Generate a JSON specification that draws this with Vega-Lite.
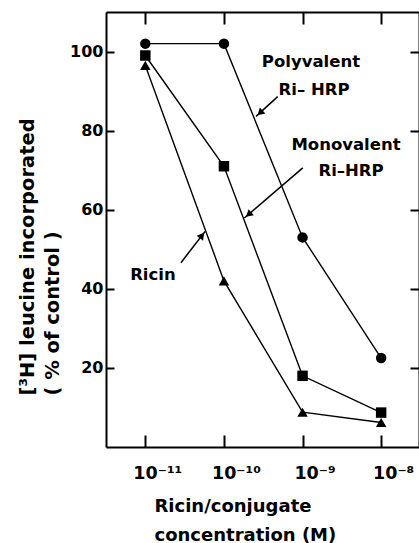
{
  "$schema": "https://vega.github.io/schema/vega-lite/v6.json",
  "width": 313,
  "height": 435,
  "autosize": {"type": "none"},
  "padding": {"left": 106, "top": 12, "right": 0, "bottom": 96},
  "background": "white",
  "config": {
    "view": {"stroke": null},
    "font": "DejaVu Sans",
    "axis": {
      "grid": false,
      "domainColor": "black",
      "domainWidth": 2,
      "tickColor": "black",
      "tickWidth": 2,
      "labelColor": "black",
      "labelFont": "DejaVu Sans",
      "labelFontWeight": "bold",
      "labelFontSize": 16,
      "titleColor": "black",
      "titleFont": "DejaVu Sans",
      "titleFontWeight": "bold"
    }
  },
  "datasets": {
    "series": [
      {"series": "Polyvalent Ri-HRP", "conc": 1e-11, "pct": 102},
      {"series": "Polyvalent Ri-HRP", "conc": 1e-10, "pct": 102},
      {"series": "Polyvalent Ri-HRP", "conc": 1e-9, "pct": 53},
      {"series": "Polyvalent Ri-HRP", "conc": 1e-8, "pct": 22.5},
      {"series": "Monovalent Ri-HRP", "conc": 1e-11, "pct": 99},
      {"series": "Monovalent Ri-HRP", "conc": 1e-10, "pct": 71},
      {"series": "Monovalent Ri-HRP", "conc": 1e-9, "pct": 18},
      {"series": "Monovalent Ri-HRP", "conc": 1e-8, "pct": 8.7},
      {"series": "Ricin", "conc": 1e-11, "pct": 96.5},
      {"series": "Ricin", "conc": 1e-10, "pct": 42},
      {"series": "Ricin", "conc": 1e-9, "pct": 8.8},
      {"series": "Ricin", "conc": 1e-8, "pct": 6.2}
    ],
    "arrows": [
      {"label": "Polyvalent", "x1": 4.83e-10, "y1": 88.6, "x2": 2.56e-10, "y2": 83.6, "hx": 2.88e-10, "hy": 84.5, "angle": 227},
      {"label": "Monovalent", "x1": 1.007e-9, "y1": 70.6, "x2": 1.82e-10, "y2": 57.9, "hx": 2.06e-10, "hy": 58.8, "angle": 229},
      {"label": "Ricin", "x1": 2.84e-11, "y1": 46.6, "x2": 5.75e-11, "y2": 54.5, "hx": 5.26e-11, "hy": 53.5, "angle": 37}
    ],
    "labels": [
      {"text": "Polyvalent", "conc": 1.28e-9, "pct": 97.4},
      {"text": "Ri– HRP", "conc": 1.4e-9, "pct": 90.3},
      {"text": "Monovalent", "conc": 3.57e-9, "pct": 76.3},
      {"text": "Ri–HRP", "conc": 4.14e-9, "pct": 69.7},
      {"text": "Ricin", "conc": 1.25e-11, "pct": 43.6}
    ]
  },
  "resolve": {"axis": {"x": "independent", "y": "independent"}},
  "layer": [
    {
      "data": {"name": "series"},
      "mark": {"type": "line", "color": "black", "strokeWidth": 1.4},
      "encoding": {
        "x": {
          "field": "conc", "type": "quantitative",
          "scale": {"type": "log", "domain": [3.162e-12, 3.03e-8], "nice": false},
          "axis": {
            "orient": "bottom",
            "values": [1e-11, 1e-10, 1e-9, 1e-8],
            "labelExpr": "'10' + (datum.value < 5e-11 ? '⁻¹¹' : datum.value < 5e-10 ? '⁻¹⁰' : datum.value < 5e-9 ? '⁻⁹' : '⁻⁸')",
            "tickSize": -12,
            "labelPadding": 29,
            "labelOffset": 12,
            "labelFontSize": 17.5,
            "title": ["Ricin/conjugate", "concentration (M)"],
            "titleFontSize": 18,
            "titleAnchor": "start",
            "titleAlign": "left",
            "titleBaseline": "alphabetic",
            "titleX": 48,
            "titleY": 64,
            "titleLineHeight": 29
          }
        },
        "y": {
          "field": "pct", "type": "quantitative",
          "scale": {"domain": [0, 110], "nice": false, "zero": false},
          "axis": {
            "orient": "left",
            "values": [20, 40, 60, 80, 100],
            "tickSize": -8,
            "labelPadding": 11,
            "title": ["[³H] leucine incorporated", "    ( % of control )"],
            "titleFontSize": 19.5,
            "titleAngle": -90,
            "titleAlign": "left",
            "titleBaseline": "alphabetic",
            "titleX": -73,
            "titleY": 383,
            "titleLineHeight": 25
          }
        },
        "detail": {"field": "series"}
      }
    },
    {
      "data": {"name": "series"},
      "mark": {"type": "point", "filled": true, "color": "black", "opacity": 1, "size": 110},
      "encoding": {
        "x": {
          "field": "conc", "type": "quantitative",
          "scale": {"type": "log", "domain": [3.162e-12, 3.03e-8], "nice": false},
          "axis": {"orient": "top", "values": [1e-11, 1e-10, 1e-9, 1e-8], "labels": false, "tickSize": -12, "title": null}
        },
        "y": {
          "field": "pct", "type": "quantitative",
          "scale": {"domain": [0, 110], "nice": false, "zero": false},
          "axis": {"orient": "right", "values": [20, 40, 60, 80, 100], "labels": false, "tickSize": -9, "title": null}
        },
        "shape": {
          "field": "series", "type": "nominal",
          "scale": {"domain": ["Polyvalent Ri-HRP", "Monovalent Ri-HRP", "Ricin"], "range": ["circle", "square", "triangle-up"]},
          "legend": null
        }
      }
    },
    {
      "data": {"name": "arrows"},
      "mark": {"type": "rule", "color": "black", "strokeWidth": 1.5},
      "encoding": {
        "x": {"field": "x1", "type": "quantitative", "scale": {"type": "log", "domain": [3.162e-12, 3.03e-8], "nice": false}, "axis": null},
        "y": {"field": "y1", "type": "quantitative", "scale": {"domain": [0, 110], "nice": false, "zero": false}, "axis": null},
        "x2": {"field": "x2"},
        "y2": {"field": "y2"}
      }
    },
    {
      "data": {"name": "arrows"},
      "mark": {"type": "point", "shape": "triangle-up", "filled": true, "color": "black", "opacity": 1, "size": 65},
      "encoding": {
        "x": {"field": "hx", "type": "quantitative", "scale": {"type": "log", "domain": [3.162e-12, 3.03e-8], "nice": false}, "axis": null},
        "y": {"field": "hy", "type": "quantitative", "scale": {"domain": [0, 110], "nice": false, "zero": false}, "axis": null},
        "angle": {"field": "angle", "type": "quantitative", "scale": null}
      }
    },
    {
      "data": {"name": "labels"},
      "mark": {"type": "text", "font": "DejaVu Sans", "fontWeight": "bold", "fontSize": 16.5, "color": "black", "align": "center", "baseline": "middle"},
      "encoding": {
        "x": {"field": "conc", "type": "quantitative", "scale": {"type": "log", "domain": [3.162e-12, 3.03e-8], "nice": false}, "axis": null},
        "y": {"field": "pct", "type": "quantitative", "scale": {"domain": [0, 110], "nice": false, "zero": false}, "axis": null},
        "text": {"field": "text"}
      }
    }
  ]
}
